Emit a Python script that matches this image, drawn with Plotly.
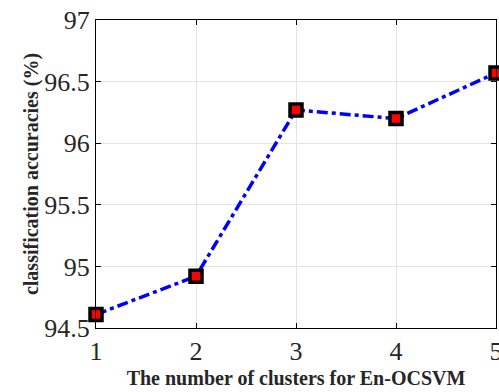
import plotly.graph_objects as go

clusters = [1, 2, 3, 4, 5]
accuracy = [94.61, 94.92, 96.27, 96.20, 96.57]
y_ticks = [94.5, 95, 95.5, 96, 96.5, 97]
y_tick_labels = ["94.5", "95", "95.5", "96", "96.5", "97"]

SERIF = "Liberation Serif, Times New Roman, serif"

fig = go.Figure()
fig.add_trace(go.Scatter(
    x=clusters, y=accuracy, mode="lines+markers",
    line=dict(color="#0000ff", width=3.5, dash="11px,4px,4px,4px"),
    marker=dict(symbol="square", size=12, color="#ff0000",
                line=dict(color="black", width=3.5)),
    cliponaxis=False,
))

axis_common = dict(
    showline=True, linecolor="black", linewidth=1, mirror="ticks",
    ticks="inside", ticklen=5, tickcolor="black",
    showgrid=True, gridcolor="#e3e3e3", gridwidth=1, zeroline=False,
    tickfont=dict(family=SERIF, size=26, color="#262626"),
    ticklabeloverflow="allow", automargin=False,
)

fig.update_layout(
    width=499, height=392,
    margin=dict(l=96, r=3, t=20, b=64),
    paper_bgcolor="white", plot_bgcolor="white",
    showlegend=False,
    xaxis=dict(range=[1, 5], tickvals=clusters, **axis_common,
               title=dict(text="<b>The number of clusters for En-OCSVM</b>",
                          font=dict(family=SERIF, size=20, color="#262626"),
                          standoff=5)),
    yaxis=dict(range=[94.5, 97], tickvals=y_ticks, ticktext=y_tick_labels, **axis_common,
               title=dict(text="<b>classification accuracies (%)</b>",
                          font=dict(family=SERIF, size=20, color="#262626"),
                          standoff=0)),
)

fig.write_html("out.html", config={"displayModeBar": False},
               post_script="document.body.style.margin='0';")
